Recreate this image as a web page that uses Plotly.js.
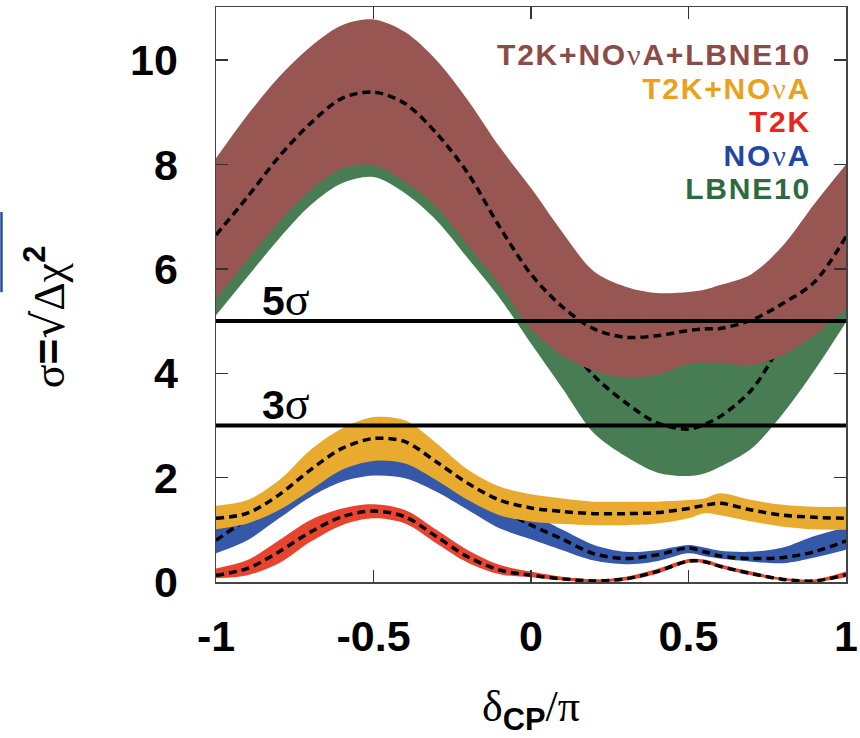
<!DOCTYPE html>
<html>
<head>
<meta charset="utf-8">
<script src="https://cdn.plot.ly/plotly-3.0.1.min.js"></script>
<style>html,body{margin:0;padding:0;background:#fff;}#plot{width:860px;height:738px;}</style>
</head>
<body>
<div id="plot"></div>
<script>
// delta_CP / pi sample points
const deltaCP = [-1,-0.9,-0.8,-0.7,-0.6,-0.5,-0.4,-0.3,-0.2,-0.1,0,0.1,0.2,0.3,0.4,0.5,0.55,0.6,0.7,0.8,0.9,1];

// LBNE10
const lbneLow  = [5.11,5.85,6.58,7.22,7.64,7.76,7.45,6.93,6.20,5.45,4.57,3.71,2.85,2.41,2.10,2.03,2.08,2.21,2.56,3.23,4.06,4.98];
const lbneMid  = [6.3,7.0,7.7,8.3,8.6,8.7,8.5,8.0,7.3,6.5,5.6,4.7,3.95,3.44,3.05,2.93,3.02,3.17,3.68,4.6,5.4,6.3];
const lbneHigh = [7.0,7.8,8.5,9.1,9.5,9.6,9.4,8.9,8.2,7.4,6.6,5.8,5.2,4.9,4.9,5.0,5.0,5.0,5.2,5.6,6.2,7.0];

// T2K+NOvA+LBNE10
const allLow  = [5.43,6.17,6.90,7.51,7.92,7.99,7.67,7.19,6.45,5.70,4.85,4.34,4.05,3.92,3.97,4.18,4.20,4.19,4.16,4.35,4.73,5.24];
const allMid  = [6.65,7.38,8.15,8.79,9.27,9.39,9.17,8.60,7.83,6.81,5.90,5.27,4.85,4.69,4.72,4.82,4.85,4.86,5.02,5.34,5.75,6.62];
const allHigh = [8.12,8.95,9.68,10.26,10.67,10.78,10.54,10.00,9.23,8.34,7.55,6.70,5.95,5.66,5.54,5.56,5.60,5.69,5.90,6.45,7.25,8.00];

// NOvA
const novaLow  = [0.55,0.80,1.22,1.63,1.92,2.04,1.99,1.73,1.38,1.03,0.82,0.61,0.41,0.34,0.40,0.55,0.50,0.45,0.39,0.36,0.47,0.62];
const novaMid  = [0.80,1.20,1.50,1.90,2.25,2.40,2.35,2.05,1.70,1.40,1.09,0.82,0.54,0.45,0.52,0.65,0.58,0.50,0.45,0.47,0.58,0.79];
const novaHigh = [1.20,1.30,1.55,1.95,2.30,2.45,2.40,2.10,1.75,1.45,1.30,1.00,0.71,0.58,0.61,0.71,0.66,0.60,0.58,0.66,0.88,1.05];

// T2K+NOvA
const tnLow  = [1.01,1.12,1.38,1.76,2.15,2.32,2.27,1.95,1.57,1.28,1.16,1.11,1.09,1.09,1.12,1.22,1.32,1.28,1.16,1.06,1.01,1.00];
const tnMid  = [1.22,1.32,1.67,2.15,2.56,2.75,2.69,2.30,1.89,1.57,1.42,1.35,1.31,1.31,1.33,1.41,1.47,1.51,1.38,1.28,1.24,1.22];
const tnHigh = [1.46,1.57,1.95,2.53,2.94,3.16,3.10,2.66,2.15,1.83,1.68,1.60,1.54,1.54,1.54,1.57,1.60,1.70,1.57,1.48,1.44,1.44];

// T2K
const t2kLow  = [0.07,0.13,0.36,0.77,1.09,1.22,1.12,0.74,0.37,0.15,0.09,0.03,0.00,0.03,0.16,0.37,0.36,0.27,0.13,0.03,0.00,0.09];
const t2kMid  = [0.13,0.26,0.58,0.96,1.25,1.36,1.25,0.87,0.48,0.23,0.13,0.06,0.02,0.06,0.20,0.40,0.39,0.30,0.16,0.05,0.02,0.14];
const t2kHigh = [0.26,0.42,0.80,1.19,1.41,1.49,1.38,1.00,0.61,0.33,0.20,0.10,0.05,0.10,0.25,0.44,0.43,0.34,0.20,0.08,0.05,0.20];

// significance reference levels
const sigmaLevels = [5, 3];
const sigmaLabels = ['5', '3'];
const xEnds = [-1, 1];

// tick labels
const xTickVals = [-1,-0.5,0,0.5,1];
const xTickText = ['-1','-0.5','0','0.5','1'];
const yTickVals = [0,2,4,6,8,10];
const yTickText = ['0','2','4','6','8','10'];

const NU = '<span style="font-family:Liberation Serif;font-weight:normal">ν</span>';
const legendNames = ['T2K+NO'+NU+'A+LBNE10', 'T2K+NO'+NU+'A', 'T2K', 'NO'+NU+'A', 'LBNE10'];
const legendColors = ['#8c4b46','#e8a21e','#e8261c','#1f47a3','#2d6b3e'];

const C = {green:'#487d53', brown:'#975652', blue:'#3559a8', yellow:'#e9aa30', red:'#e8432f'};

const SM = 0.9;
function band(lo, hi, color){
  return [
    {x:deltaCP, y:lo, mode:'lines', line:{width:0, shape:'spline', smoothing:SM}, hoverinfo:'skip', showlegend:false},
    {x:deltaCP, y:hi, mode:'lines', line:{width:0, shape:'spline', smoothing:SM}, fill:'tonexty', fillcolor:color, hoverinfo:'skip', showlegend:false}
  ];
}
function dashed(mid){
  return {x:deltaCP, y:mid, mode:'lines', line:{color:'#000', width:3.5, dash:'8px,5px', shape:'spline', smoothing:SM}, showlegend:false};
}

const traces = [
  ...band(lbneLow, lbneHigh, C.green), dashed(lbneMid),
  ...band(allLow, allHigh, C.brown), dashed(allMid),
  ...band(novaLow, novaHigh, C.blue), dashed(novaMid),
  ...band(tnLow, tnHigh, C.yellow), dashed(tnMid),
  ...band(t2kLow, t2kHigh, C.red), dashed(t2kMid)
];
sigmaLevels.forEach(s => traces.push({x:xEnds, y:[s,s], mode:'lines', line:{color:'#000', width:4}, showlegend:false}));

const annotations = [];
// legend: one right-aligned text block
const legendText = legendNames.map((t,i) => '<span style="font-size:30px;letter-spacing:1.8px;color:'+legendColors[i]+'">'+t+'</span>').join('<br>');
annotations.push({
  xref:'paper', yref:'paper', x:0.948, y:0.801, xanchor:'right', yanchor:'middle', align:'right', showarrow:false,
  text:legendText, font:{family:'Liberation Sans, Arial', size:25.8, weight:'bold', color:'#000'}
});
sigmaLevels.forEach((s,i) => annotations.push({
  xref:'x', yref:'y', x:-0.86, y:s, xanchor:'left', yanchor:'bottom', showarrow:false, yshift:-6,
  text:'<b>'+sigmaLabels[i]+'</b><span style="font-family:Liberation Serif;font-size:46px">σ</span>',
  font:{family:'Liberation Sans, Arial', size:41, color:'#000'}
}));
annotations.push({
  xref:'paper', yref:'paper', x:-0.272, y:0.46, xanchor:'center', yanchor:'middle', textangle:-90, showarrow:false,
  text:'<span style="font-family:Liberation Serif">σ</span><b>=</b><span style="font-family:DejaVu Serif">√</span><span style="font-family:Liberation Serif">Δχ</span><sup><b>2</b></sup>',
  font:{family:'Liberation Sans, Arial', size:44, color:'#000'}
});
annotations.push({
  xref:'paper', yref:'paper', x:0.5, y:-0.222, xanchor:'center', yanchor:'middle', showarrow:false,
  text:'δ<sub><span style="font-family:Liberation Sans;font-weight:bold">CP</span></sub>/π',
  font:{family:'Liberation Serif', size:44, color:'#000'}
});

const axisCommon = {
  ticks:'inside', ticklen:12, tickwidth:1.5, tickcolor:'#333',
  showline:true, linecolor:'#444', linewidth:1.5, mirror:'ticks',
  showgrid:false, zeroline:false,
  tickfont:{family:'Liberation Sans, Arial', size:43, weight:'bold', color:'#000'}
};

const layout = {
  width:860, height:738,
  margin:{l:216, r:14, t:7, b:156},
  paper_bgcolor:'#fff', plot_bgcolor:'#fff',
  showlegend:false,
  xaxis:Object.assign({}, axisCommon, {range:[-1,1], tickmode:'array', tickvals:xTickVals, ticktext:xTickText, ticklabelstandoff:16}),
  yaxis:Object.assign({}, axisCommon, {range:[0,11.02], tickmode:'array', tickvals:yTickVals, ticktext:yTickText, ticklabelstandoff:28}),
  annotations:annotations,
  shapes:[{type:'line', xref:'paper', yref:'paper', x0:-0.3405, x1:-0.3405, y0:0.504, y1:0.6435, line:{color:'#2b4c9b', width:2.5}}]
};

Plotly.newPlot('plot', traces, layout, {staticPlot:true, displayModeBar:false});
</script>
</body>
</html>
